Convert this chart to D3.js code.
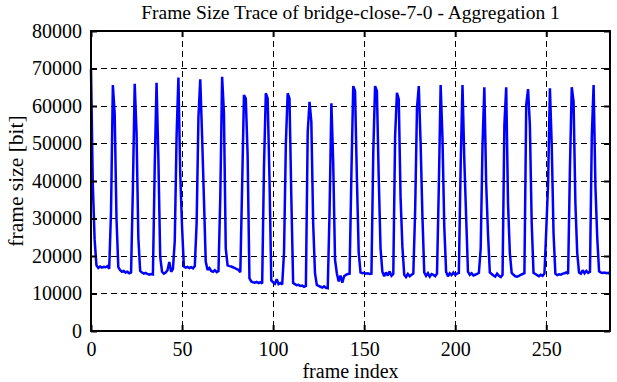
<!DOCTYPE html>
<html lang="en">
<head>
<meta charset="UTF-8">
<title>Frame Size Trace</title>
<style>
body{margin:0;background:#fff;}
text{font-family:"Liberation Serif","DejaVu Serif",serif;fill:#000;}
</style>
</head>
<body>
<script src="https://d3js.org/d3.v7.min.js"></script>
<script>
// frame sizes [bit], one per frame index 0..285
var frameSize = [
69800,38900,24300,17500,16800,17200,16900,17100,17000,17300,16600,32000,
65600,58000,30000,17000,16200,15800,16000,15600,15800,15400,15600,38000,
65900,53000,24800,16000,15600,15300,15500,15200,15000,15200,15100,44000,
66200,46000,19800,15800,15300,15600,16200,18400,15800,16600,24000,52000,
67600,42000,27800,17200,16900,17100,16800,17000,16700,17300,28700,57000,
67100,52000,35500,18500,16300,16800,16000,15800,16200,15700,16000,35800,
67800,58100,22000,17500,17300,17200,17000,16800,16500,16300,15700,38900,
62900,62000,47000,14100,13200,13000,12900,13100,12800,13000,12700,44000,
63400,62000,41000,13500,13000,12600,13800,12500,12800,12400,21000,50000,
63400,62000,35800,12800,12500,12200,12300,12000,12100,11800,12000,53000,
61100,55800,28800,15400,12300,12000,11800,11600,11900,11500,11400,31800,
60700,45000,19000,15400,13200,14800,12900,14600,15000,15200,15300,42000,
65300,64000,41000,21000,15600,15400,15500,15300,15400,15200,15300,47500,
65300,64000,41000,22000,15800,14600,15600,14800,15900,14700,15200,52000,
63500,61800,35500,22500,15000,14400,15200,14600,15000,15300,32000,59400,
65300,50100,30500,15600,14700,15400,14500,15200,15000,14600,15300,38500,
65600,51500,27800,15800,14600,15400,14900,15600,15000,15300,15500,44400,
65600,45600,30500,15800,15000,15400,14800,15000,15200,15500,22000,49600,
65000,39400,26000,15600,15200,14800,14500,15300,14700,14400,15000,54900,
65000,34000,20800,15500,15000,14600,14500,14700,15000,15200,15400,60300,
64500,54900,28800,15500,15200,14900,14600,15000,14700,15300,27000,39400,
64700,49600,26000,15300,14900,15100,15000,15300,15400,15600,15300,43500,
65000,61100,34000,20800,15600,15300,16200,15400,16000,15500,15800,51800,
65600,38500,24800,15900,15600,15500,15600,15400,15500,15200
];
var xTicks = [0, 50, 100, 150, 200, 250];
var yTicks = [0, 10000, 20000, 30000, 40000, 50000, 60000, 70000, 80000];
var titleText = "Frame Size Trace of bridge-close-7-0 - Aggregation 1";
var xLabel = "frame index";
var yLabel = "frame size [bit]";

var W = 617, H = 382;
var m = {left: 91, right: 7, top: 31, bottom: 51};
var pw = W - m.left - m.right, ph = H - m.top - m.bottom;

var svg = d3.select("body").append("svg").attr("width", W).attr("height", H);
var g = svg.append("g").attr("transform", "translate(" + m.left + "," + m.top + ")");

var x = d3.scaleLinear().domain([0, 285]).range([0, pw]);
var y = d3.scaleLinear().domain([0, 80000]).range([ph, 0]);

// dashed grid
g.selectAll(".gy").data(yTicks.slice(1, -1)).enter().append("line")
  .attr("x1", 0).attr("x2", pw).attr("y1", d => y(d)).attr("y2", d => y(d))
  .attr("stroke", "#000").attr("stroke-width", 1).attr("stroke-dasharray", "6,4")
  .attr("shape-rendering", "crispEdges");
g.selectAll(".gx").data(xTicks.slice(1)).enter().append("line")
  .attr("y1", 0).attr("y2", ph).attr("x1", d => x(d)).attr("x2", d => x(d))
  .attr("stroke", "#000").attr("stroke-width", 1).attr("stroke-dasharray", "6,4")
  .attr("shape-rendering", "crispEdges");

// trace
var line = d3.line().x((d, i) => x(i)).y(d => y(d));
g.append("path").datum(frameSize).attr("d", line)
  .attr("fill", "none").attr("stroke", "#0000ff").attr("stroke-width", 2.5)
  .attr("stroke-linejoin", "miter").attr("stroke-miterlimit", 2);

// axes with inward ticks on all sides
var fs = "20px";
var ax = g.append("g").attr("transform", "translate(0," + ph + ")")
  .call(d3.axisBottom(x).tickValues(xTicks).tickSizeInner(-6).tickSizeOuter(0).tickPadding(11));
var ay = g.append("g")
  .call(d3.axisLeft(y).tickValues(yTicks).tickFormat(d3.format("d")).tickSizeInner(-6).tickSizeOuter(0).tickPadding(9));
g.append("g").attr("transform", "translate(" + pw + ",0)")
  .call(d3.axisRight(y).tickValues(yTicks).tickSizeInner(-6).tickSizeOuter(0).tickFormat(""));
g.append("g")
  .call(d3.axisTop(x).tickValues(xTicks).tickSizeInner(-6).tickSizeOuter(0).tickFormat(""));
g.selectAll(".domain").remove();
g.selectAll(".tick line").attr("stroke", "#000").attr("stroke-width", 2);
[ax, ay].forEach(a => a.selectAll("text").attr("font-size", fs).style("fill", "#000"));
ax.selectAll("text").attr("dy", "0.71em");

g.append("rect").attr("width", pw).attr("height", ph)
  .attr("fill", "none").attr("stroke", "#000").attr("stroke-width", 2);

// labels
svg.append("text").attr("x", m.left + pw / 2).attr("y", 19).attr("text-anchor", "middle")
  .attr("font-size", "19.5px").text(titleText);
svg.append("text").attr("x", m.left + pw / 2).attr("y", 378).attr("text-anchor", "middle")
  .attr("font-size", fs).text(xLabel);
svg.append("text").attr("transform", "translate(23," + (m.top + ph / 2) + ") rotate(-90)")
  .attr("text-anchor", "middle").attr("font-size", "21.5px").text(yLabel);
</script>
</body>
</html>
